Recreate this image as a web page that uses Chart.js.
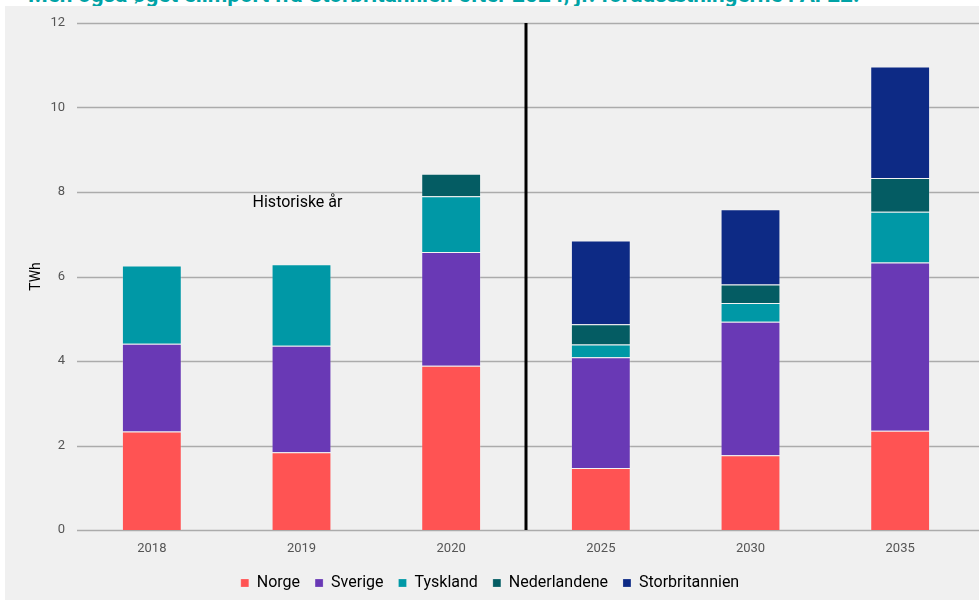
<!DOCTYPE html>
<html lang="da">
<head>
<meta charset="utf-8">
<script src="https://cdn.jsdelivr.net/npm/chart.js@4"></script>
<style>
  body { margin: 0; background: #ffffff; font-family: Roboto, sans-serif; overflow: hidden; }
  #overskrift {
    position: absolute; left: 28px; top: -19px; margin: 0;
    font: bold 22.5px Roboto, sans-serif; line-height: 26px; color: #00a3a6;
    white-space: nowrap;
  }
  #panel {
    position: absolute; left: 5px; top: 6px; width: 974px; height: 600px;
    background: #f0f0f0;
  }
</style>
</head>
<body>
<p id="overskrift">Men også øget elimport fra Storbritannien efter 2024, jf. forudsætningerne i AF22.</p>
<div id="panel"><canvas id="elimport" width="974" height="600"></canvas></div>
<script>
// Årstal på x-aksen
const aar = ['2018', '2019', '2020', '2025', '2030', '2035'];
// Import i TWh pr. land
const norge = [2.33, 1.84, 3.89, 1.47, 1.77, 2.35];
const sverige = [2.08, 2.52, 2.69, 2.62, 3.16, 3.98];
const tyskland = [1.85, 1.93, 1.32, 0.30, 0.44, 1.20];
const nederlandene = [0, 0, 0.53, 0.48, 0.44, 0.80];
const storbritannien = [0, 0, 0, 1.98, 1.78, 2.64];
const yTicks = [0, 2, 4, 6, 8, 10, 12];

// Gitterlinjer helt ud til kanten + skillelinje og tekst
const ekstraTegning = {
    id: 'ekstraTegning',
    beforeDatasetsDraw(chart) {
        const { ctx, chartArea, scales } = chart;
        ctx.save();
        ctx.strokeStyle = '#ababab';
        ctx.lineWidth = 1.5;
        yTicks.forEach(v => {
            const y = Math.round(scales.y.getPixelForValue(v)) + 0.5;
            ctx.beginPath();
            ctx.moveTo(chartArea.left, y);
            ctx.lineTo(chart.width, y);
            ctx.stroke();
        });
        ctx.restore();
    },
    afterDatasetsDraw(chart) {
        const { ctx, chartArea, scales } = chart;
        const x = (scales.x.getPixelForValue(2) + scales.x.getPixelForValue(3)) / 2;
        ctx.save();
        ctx.strokeStyle = '#000000';
        ctx.lineWidth = 3;
        ctx.beginPath();
        ctx.moveTo(x, chartArea.top);
        ctx.lineTo(x, chartArea.bottom);
        ctx.stroke();
        ctx.fillStyle = '#000000';
        ctx.font = '16px Roboto';
        ctx.textAlign = 'center';
        ctx.textBaseline = 'middle';
        ctx.fillText('Historiske år', scales.x.getPixelForValue(1) - 4, scales.y.getPixelForValue(7.74));
        ctx.restore();
    }
};

const kant = 'rgba(255, 255, 255, 0.2)';

const ctx = document.getElementById('elimport').getContext('2d');
const graf = new Chart(ctx, {
    type: 'bar',
    data: {
        labels: aar,
        datasets: [
            { label: 'Norge', data: norge, backgroundColor: '#ff5353' },
            { label: 'Sverige', data: sverige, backgroundColor: '#6939b5' },
            { label: 'Tyskland', data: tyskland, backgroundColor: '#0098a6' },
            { label: 'Nederlandene', data: nederlandene, backgroundColor: '#045c63' },
            { label: 'Storbritannien', data: storbritannien, backgroundColor: '#0d2a85' }
        ]
    },
    options: {
        responsive: false,
        animation: false,
        barPercentage: 0.4,
        categoryPercentage: 1.0,
        datasets: { bar: { borderWidth: 1, borderColor: kant } },
        layout: { padding: { left: 0, right: 4, top: 17, bottom: 5 } },
        plugins: {
            tooltip: { enabled: false },
            legend: {
                position: 'bottom',
                labels: {
                    boxWidth: 8, boxHeight: 8, padding: 15,
                    color: '#000000',
                    font: { family: 'Roboto', size: 16 }
                }
            }
        },
        scales: {
            x: {
                stacked: true,
                grid: { display: false, drawTicks: false },
                border: { display: false },
                ticks: { color: '#555555', padding: 11, font: { family: 'Roboto', size: 13 } },
                afterFit(scale) { scale.height = 30; }
            },
            y: {
                stacked: true,
                min: 0, max: 12,
                // tickLength giver afstand til etiketterne uden ekstra top-luft
                grid: { display: false, drawTicks: true, tickLength: 9 },
                border: { display: false },
                ticks: { stepSize: 2, color: '#555555', padding: 3, font: { family: 'Roboto', size: 13 } },
                title: {
                    display: true, text: 'TWh', color: '#000000',
                    font: { family: 'Roboto', size: 14 },
                    padding: { top: 23, bottom: 0 }
                },
                afterFit(scale) { scale.width = 72; }
            }
        }
    },
    plugins: [ekstraTegning]
});
</script>
</body>
</html>
